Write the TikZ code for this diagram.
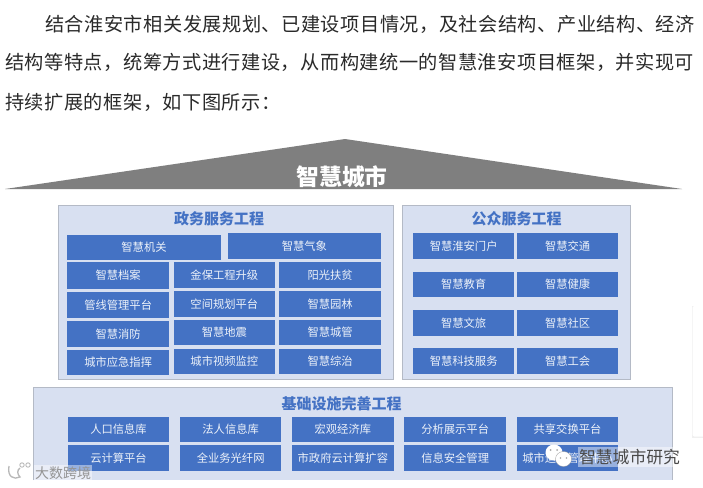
\documentclass[tikz,border=0pt]{standalone}
\usepackage{fontspec}
\setmainfont{Noto Sans CJK SC}
\newfontfamily\bodycjk{Noto Sans CJK SC}
\definecolor{boxblue}{HTML}{4472C4}
\definecolor{panelfill}{HTML}{D8E0F1}
\definecolor{panelline}{HTML}{B4BAC6}
\definecolor{roofgray}{HTML}{7F7F7F}
\definecolor{bodyink}{HTML}{2A2A2A}
\tikzset{
  pxbox/.style={fill=boxblue,draw=none,inner sep=0pt,text=white!90!boxblue,font=\fontsize{11.3}{13}\selectfont,align=center},
  panel/.style={fill=panelfill,draw=panelline,line width=0.7pt,inner sep=0pt},
  paneltitle/.style={text=boxblue,font=\bfseries\fontsize{15}{17}\selectfont,inner sep=0pt},
  bodyline/.style={anchor=west,inner sep=0pt,text=bodyink,font=\bodycjk\fontsize{19.2}{21}\selectfont}
}
\newcommand{\pbox}[6]{\node[pxbox,minimum width={(#4-#2)*1pt},minimum height={(#5-#3)*1pt}] (#1) at ({(#2+#4)/2},{(#3+#5)/2}) {#6};}
\newcommand{\ppanel}[5]{\node[panel,minimum width={(#4-#2)*1pt},minimum height={(#5-#3)*1pt}] (#1) at ({(#2+#4)/2},{(#3+#5)/2}) {};}
\begin{document}
\begin{tikzpicture}[x=1pt,y=-1pt]
\useasboundingbox (0,0) rectangle (703,487);
\fill[white] (0,0) rectangle (703,487);
% body text
\node[bodyline] (l1) at (45,24) {\addfontfeature{LetterSpace=2.6}结合淮安市相关发展规划、已建设项目情况，及社会结构、产业结构、经济};
\node[bodyline] (l2) at (5,62) {\addfontfeature{LetterSpace=2.6}结构等特点，统筹方式进行建设，从而构建统一的智慧淮安项目框架，并实现可};
\node[bodyline] (l3) at (5,102) {\addfontfeature{LetterSpace=2.6}持续扩展的框架，如下图所示：};
% roof
\fill[roofgray] (345,139) -- (682,189) -- (5,189) -- cycle;
\node[inner sep=0pt,text=white,font=\bfseries\fontsize{22.8}{25}\selectfont] (roof) at (342,176.5) {智慧城市};
% right card
\fill[black!6] (691.5,305.5) rectangle (703,438);
\fill[white,rounded corners=2pt] (692.5,306) rectangle (710,436.5);
% gov panel
\ppanel{gov}{58}{205}{393}{379.5}
\node[paneltitle] (govt) at (219,219) {政务服务工程};
\pbox{a1}{67.3}{235}{220.7}{260}{智慧机关}
\pbox{a2}{227.7}{233.3}{381}{259}{智慧气象}
\pbox{b1}{67.3}{262.3}{169}{289}{智慧档案}
\pbox{b2}{174}{262}{274.7}{288}{金保工程升级}
\pbox{b3}{279.3}{262}{381}{288}{阳光扶贫}
\pbox{c1}{67.3}{292.3}{169}{318}{管线管理平台}
\pbox{c2}{174}{291}{274.7}{316.7}{空间规划平台}
\pbox{c3}{279.3}{291}{381}{316.7}{智慧园林}
\pbox{d1}{67.3}{321}{169}{346.7}{智慧消防}
\pbox{d2}{174}{320}{274.7}{345.3}{智慧地震}
\pbox{d3}{279.3}{320}{381}{345.3}{智慧城管}
\pbox{e1}{67.3}{349.7}{169}{375.3}{城市应急指挥}
\pbox{e2}{174}{348.7}{274.7}{374}{城市视频监控}
\pbox{e3}{279.3}{348.7}{381}{374}{智慧综治}
% public panel
\ppanel{pub}{402.3}{205}{630.7}{379.5}
\node[paneltitle] (pubt) at (516.7,218.5) {公众服务工程};
\pbox{f1}{413}{233.3}{514.3}{259.3}{智慧淮安门户}
\pbox{f2}{517}{233.3}{618.3}{259.3}{智慧交通}
\pbox{g1}{413}{271.7}{514.3}{297.3}{智慧教育}
\pbox{g2}{517}{271.7}{618.3}{297.3}{智慧健康}
\pbox{h1}{413}{310}{514.3}{335.7}{智慧文旅}
\pbox{h2}{517}{310}{618.3}{335.7}{智慧社区}
\pbox{i1}{413}{348.3}{514.3}{374}{智慧科技服务}
\pbox{i2}{517}{348.3}{618.3}{374}{智慧工会}
% infrastructure panel
\fill[panelfill] (33.3,387.3) rectangle (672.7,480);
\draw[panelline,line width=0.7pt] (33.3,480) -- (33.3,387.3) -- (672.7,387.3) -- (672.7,480);
\node[paneltitle] (inft) at (341.7,404) {基础设施完善工程};
\pbox{j1}{67.7}{416.7}{169.3}{442.3}{人口信息库}
\pbox{j2}{180}{416.7}{281.3}{442.3}{法人信息库}
\pbox{j3}{292}{416.7}{393.7}{442.3}{宏观经济库}
\pbox{j4}{404.3}{416.7}{506}{442.3}{分析展示平台}
\pbox{j5}{516.7}{416.7}{618.3}{442.3}{共享交换平台}
\pbox{k1}{67.7}{445.3}{169.3}{471.3}{云计算平台}
\pbox{k2}{180}{445.3}{281.3}{471.3}{全业务光纤网}
\pbox{k3}{292}{445.3}{393.7}{471.3}{市政府云计算扩容}
\pbox{k4}{404.3}{445.3}{506}{471.3}{信息安全管理}
\pbox{k5}{516.7}{445.3}{618.3}{471.3}{城市运营管理中心}
% watermark, right
\fill[white,opacity=.45] (578,447) rectangle (681,467);
\fill[white] (554,452.5) ellipse (8.5 and 8);
\fill[black!35] (550.5,450) circle (1) (557,450) circle (1);
\fill[white,draw=black!40,line width=0.3pt] (563.5,459) ellipse (8 and 7.5);
\fill[black!35] (560.5,458) circle (0.9) (566.5,458) circle (0.9);
\node[inner sep=0pt,text=bodyink!85,font=\fontsize{16.8}{18}\selectfont] (wm1) at (629.5,457) {智慧城市研究};
% watermark, left
\fill[white,opacity=.45] (34,465) rectangle (92,481);
\node[inner sep=0pt,text=black!42,font=\fontsize{14}{16}\selectfont] (wm2) at (63,473.5) {大数跨境};
\draw[black!28,line width=1.3pt] (9,466) .. controls (7,477) and (14,480) .. (20,477) .. controls (17,474) and (17,470) .. (20,468);
\draw[black!28,line width=0.9pt] (22,465) circle (2.2) (28,465) circle (2.2);
\end{tikzpicture}
\end{document}
